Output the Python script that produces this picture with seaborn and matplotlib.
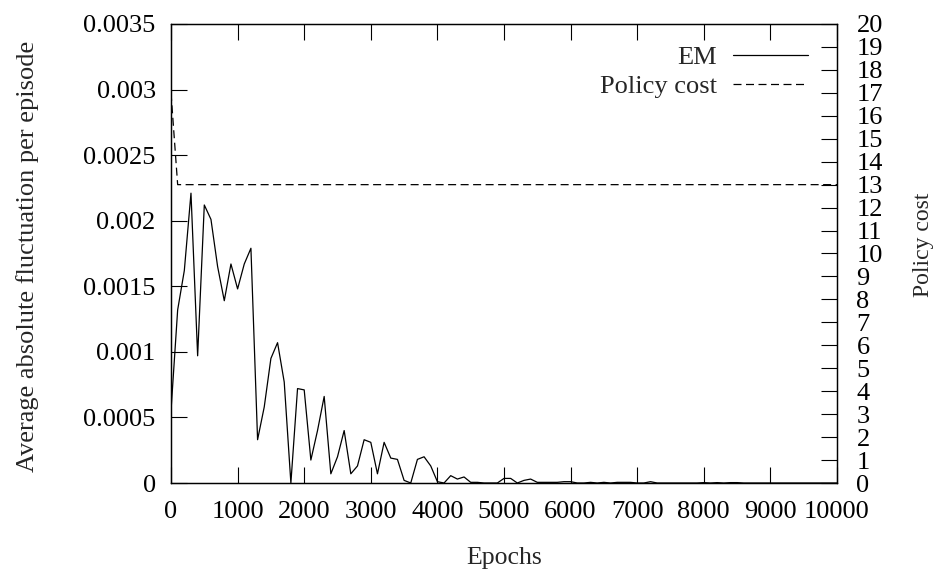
import matplotlib
matplotlib.use("Agg")
import matplotlib.pyplot as plt
import seaborn as sns
import pandas as pd
from matplotlib.ticker import MultipleLocator, FuncFormatter
from matplotlib.lines import Line2D

epochs = [0, 100, 200, 300, 400, 500, 600, 700, 800, 900,
          1000, 1100, 1200, 1300, 1400, 1500, 1600, 1700, 1800, 1900,
          2000, 2100, 2200, 2300, 2400, 2500, 2600, 2700, 2800, 2900,
          3000, 3100, 3200, 3300, 3400, 3500, 3600, 3700, 3800, 3900,
          4000, 4100, 4200, 4300, 4400, 4500, 4600, 4700, 4800, 4900,
          5000, 5100, 5200, 5300, 5400, 5500, 5600, 5700, 5800, 5900,
          6000, 6100, 6200, 6300, 6400, 6500, 6600, 6700, 6800, 6900,
          7000, 7100, 7200, 7300, 7400, 7500, 7600, 7700, 7800, 7900,
          8000, 8100, 8200, 8300, 8400, 8500, 8600, 8700, 8800, 8900,
          9000, 9100, 9200, 9300, 9400, 9500, 9600, 9700, 9800, 9900,
          10000]

em = [0.00055, 0.00132, 0.00162, 0.00221, 0.00097, 0.00212, 0.00201, 0.00165, 0.00139, 0.00167,
      0.00148, 0.00167, 0.00179, 0.00033, 0.00058, 0.00095, 0.00107, 0.00077, 0.0, 0.00072,
      0.00071, 0.000175, 0.0004, 0.00066, 0.00007, 0.0002, 0.0004, 0.00007, 0.00013, 0.00033,
      0.00031, 0.00007, 0.00031, 0.00019, 0.00018, 0.00002, 0.0, 0.00018, 0.0002, 0.00013,
      0.00001, 0.0, 0.000056, 0.00003, 0.000046, 0.000005, 0.000005, 0.0, 0.0, 0.0,
      0.000035, 0.000035, 0.0, 0.00002, 0.00003, 0.000005, 0.000005, 0.000005, 0.000005, 0.00001,
      0.00001, 0.0, 0.0, 0.000005, 0.0, 0.000005, 0.0, 0.000005, 0.000005, 0.000005,
      0.0, 0.0, 0.00001, 0.0, 0.0, 0.0, 0.0, 0.0, 0.0, 0.0,
      0.000003, 0.0, 0.000003, 0.0, 0.000003, 0.000003, 0.0, 0.0, 0.0, 0.0,
      0.0, 0.0, 0.0, 0.0, 0.0, 0.0, 0.0, 0.0, 0.0, 0.0,
      0.0]

policy_epochs = [0, 100, 10000]
policy_cost = [17.0, 13.0, 13.0]

sns.set_style("ticks")
plt.rcParams['font.family'] = ['Liberation Serif', 'DejaVu Serif']
FS = 19
DASH = (0, (6.4, 3.6))

fig = plt.figure(figsize=(9.38, 5.71), dpi=100)
ax = fig.add_axes([171/938, 1 - 483/571, 666/938, 459/571])
ax2 = ax.twinx()

df_em = pd.DataFrame({"Epochs": epochs, "EM": em})
df_pc = pd.DataFrame({"Epochs": policy_epochs, "Policy cost": policy_cost})

sns.lineplot(data=df_em, x="Epochs", y="EM", ax=ax, color="black", linewidth=0.9)
sns.lineplot(data=df_pc, x="Epochs", y="Policy cost", ax=ax2, color="black",
             linewidth=0.9, linestyle=DASH)

ax.set_xlim(0, 10000)
ax.set_ylim(0, 0.0035)
ax2.set_ylim(0, 20)

ax.xaxis.set_major_locator(MultipleLocator(1000))
ax.yaxis.set_major_locator(MultipleLocator(0.0005))
ax.yaxis.set_major_formatter(FuncFormatter(lambda v, p: f"{round(v, 6):g}"))
ax2.yaxis.set_major_locator(MultipleLocator(1))

for s in ax.spines.values():
    s.set_color("black"); s.set_linewidth(0.9); s.set_visible(True)
for s in ax2.spines.values():
    s.set_color("black"); s.set_linewidth(0.9); s.set_visible(True)

ax.tick_params(axis='x', direction='in', top=True, bottom=True, length=11.5, width=0.8,
               labelsize=FS, pad=13, colors='black')
ax.tick_params(axis='y', direction='in', left=True, right=False, length=11.5, width=0.8,
               labelsize=FS, pad=11, colors='black')
ax2.tick_params(axis='y', direction='in', right=True, left=False, length=11.5, width=0.8,
                labelsize=FS, pad=14, colors='black')
ax.grid(False); ax2.grid(False)

ax.set_xlabel("Epochs", fontsize=18.5)
ax.set_ylabel("Average absolute fluctuation per episode", fontsize=19)
ax2.set_ylabel("Policy cost", fontsize=17)
ax.xaxis.label.set_verticalalignment('baseline')
ax.yaxis.label.set_verticalalignment('center')
ax2.yaxis.label.set_verticalalignment('center')
ax.xaxis.set_label_coords(0.5, -0.1765)
ax.yaxis.set_label_coords(-0.216, 0.493)
ax2.yaxis.set_label_coords(1.1306, 0.52)

handles = [Line2D([], [], color="black", linewidth=0.9),
           Line2D([], [], color="black", linewidth=0.9, linestyle=DASH)]
leg = ax2.legend(handles, ["EM", "Policy cost"], loc="upper right", frameon=False,
                 markerfirst=False, fontsize=FS, handlelength=2.85, handletextpad=0.6,
                 labelspacing=0.2, borderaxespad=0.0,
                 bbox_to_anchor=(0.9724, 0.976))
if ax.get_legend() is not None:
    ax.get_legend().remove()

fig.savefig("out.png", dpi=100)
